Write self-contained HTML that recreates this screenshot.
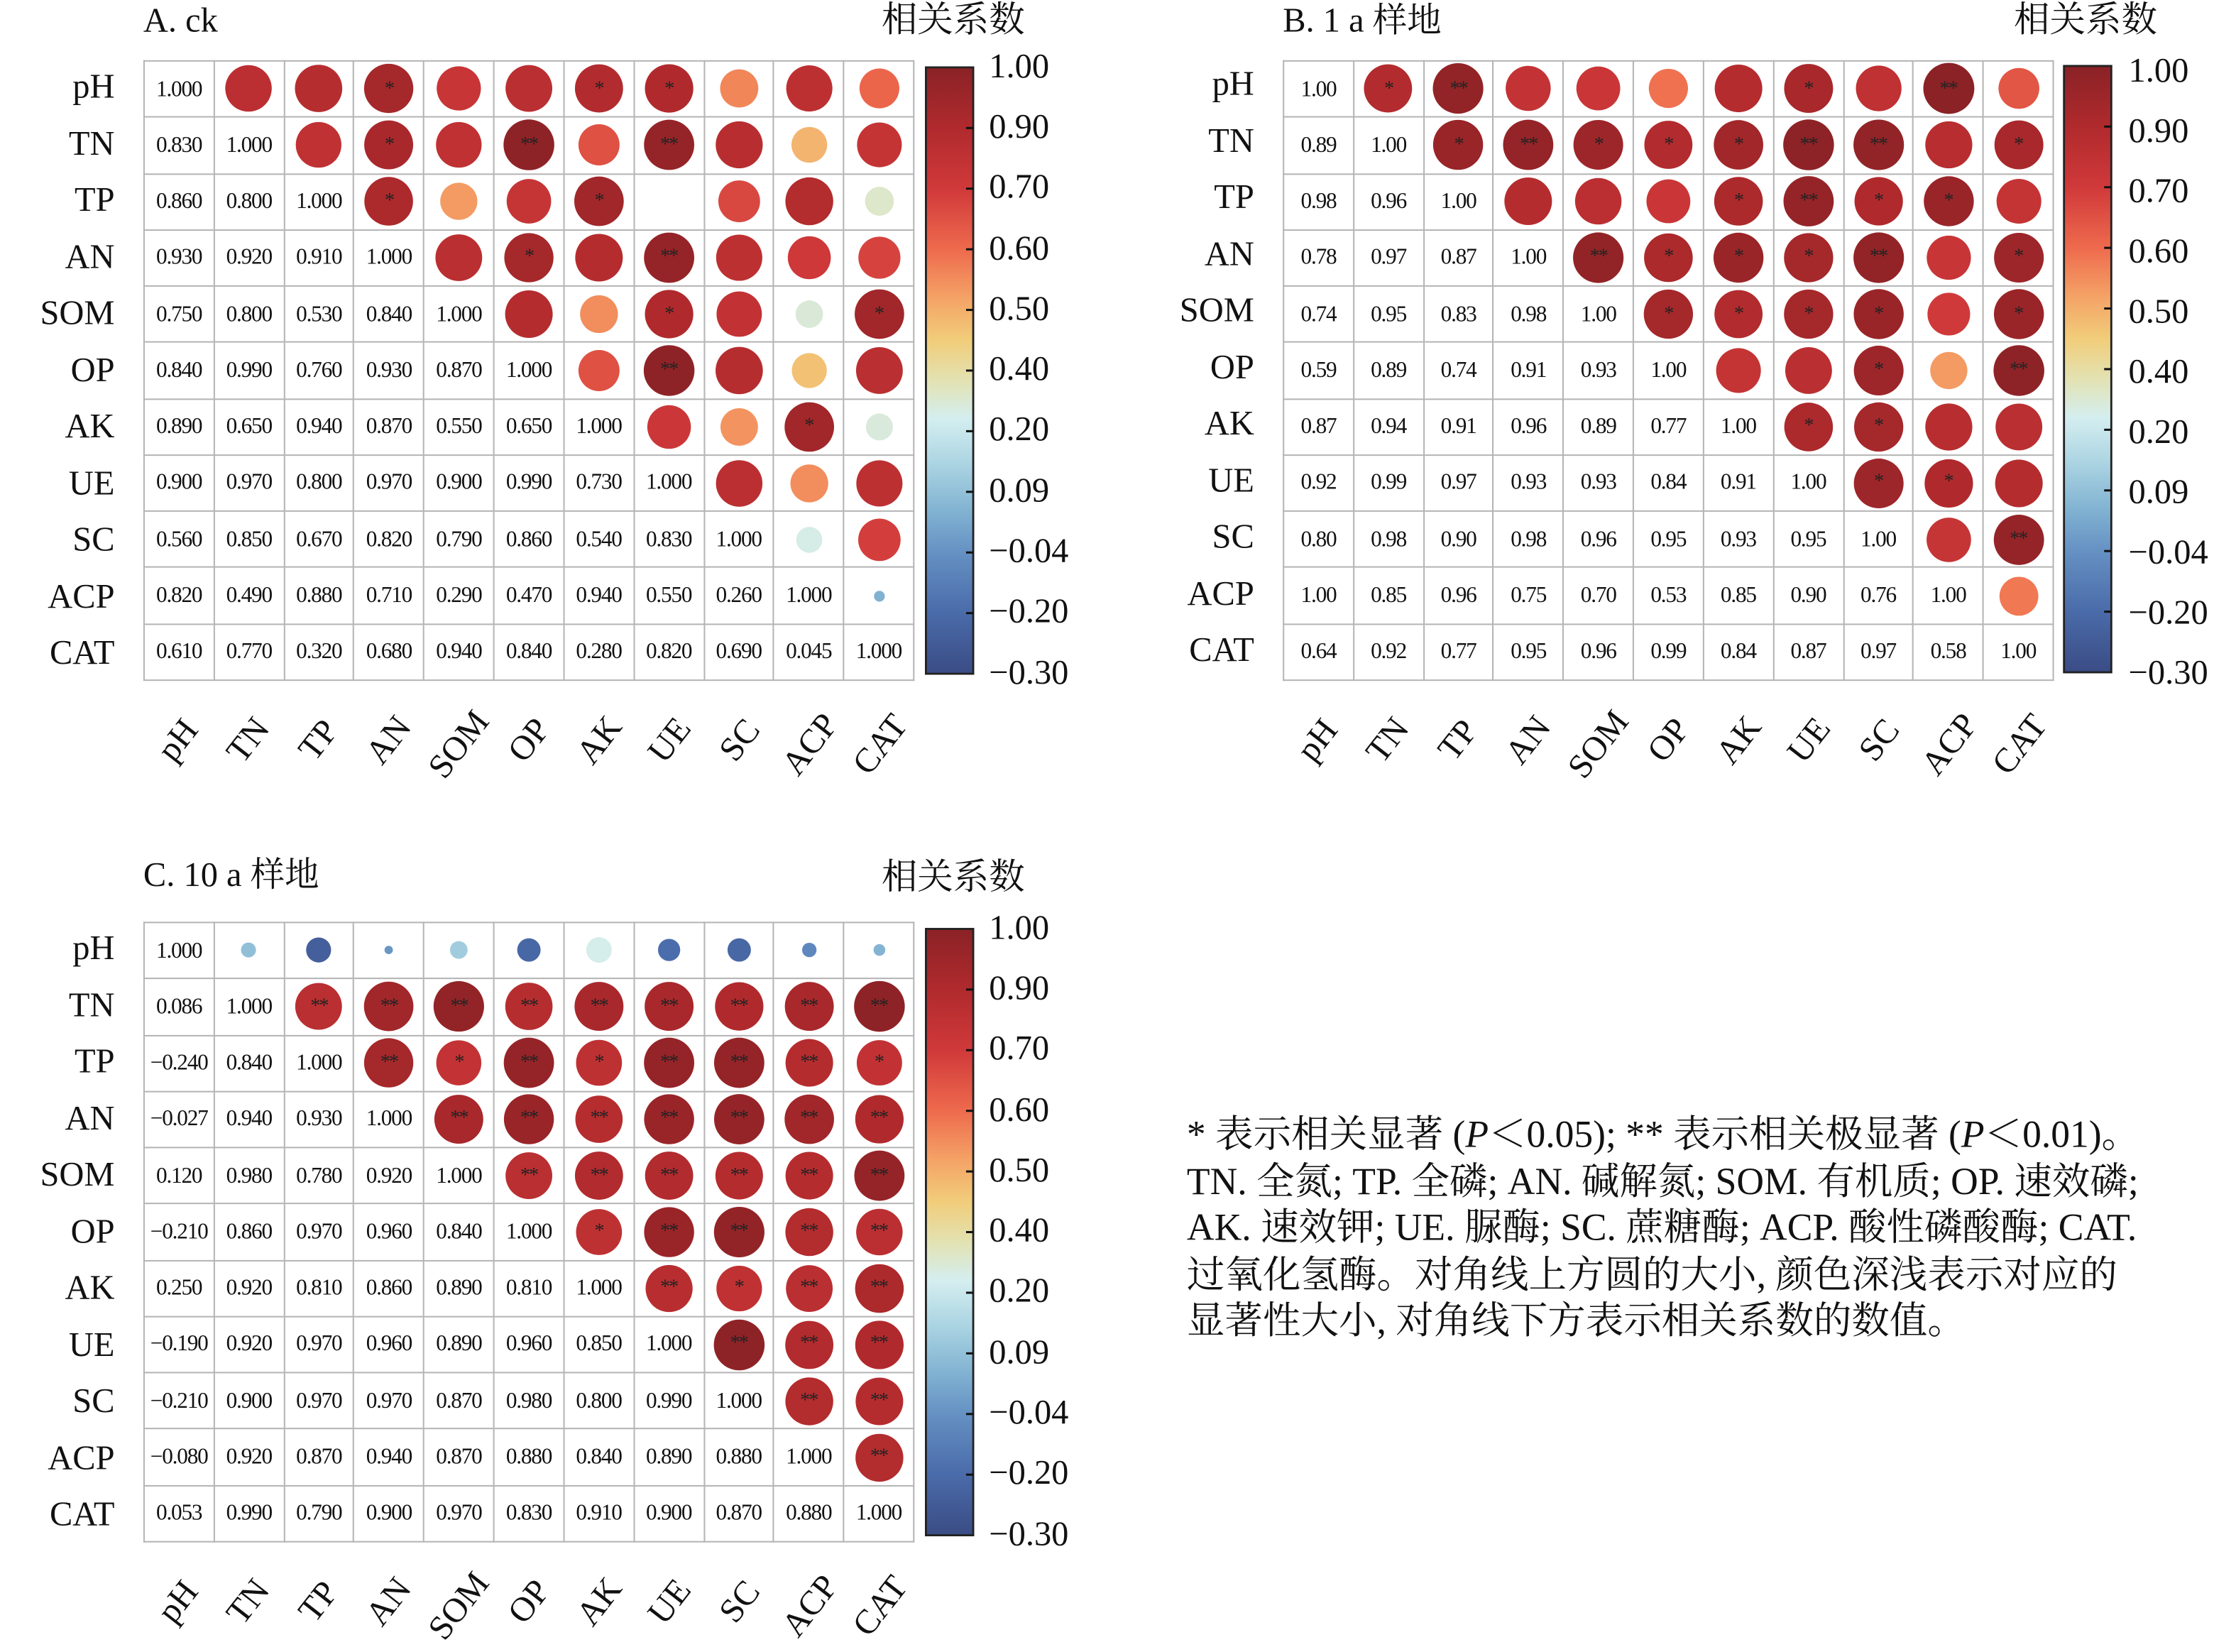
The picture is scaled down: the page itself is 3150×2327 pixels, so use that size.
<!DOCTYPE html>
<html><head><meta charset="utf-8">
<style>
html,body{margin:0;padding:0;background:#fff;}
#root{position:absolute;left:0;top:0;width:1560px;height:1152.5px;transform:scale(2.01923);transform-origin:0 0;font-family:"Liberation Serif","Noto Serif CJK SC",serif;color:#111;overflow:hidden;}
.panel{position:absolute;width:700px;height:520px;}
.panel svg.circ{position:absolute;left:0;top:0;overflow:visible;}
table.m{position:absolute;left:0;top:0;width:538px;height:433px;border-collapse:collapse;table-layout:fixed;border:1.8px solid #222;z-index:2;box-sizing:border-box;}
table.m td{border:1px solid #b4b4b4;text-align:center;vertical-align:middle;font-size:15.5px;line-height:15px;padding:0;white-space:nowrap;letter-spacing:-0.6px;overflow:visible;}
table.m td.s{font-size:14px;color:#222;letter-spacing:-1px;}
.rl{position:absolute;left:-120px;width:100px;font-size:24px;line-height:24px;height:24px;text-align:right;white-space:nowrap;}
.cl{position:absolute;width:0;height:0;}
.cl span{position:absolute;left:0;top:0;transform:translate(-50%,-50%) rotate(-52deg);font-size:24px;white-space:nowrap;}
.ttl{position:absolute;font-size:24px;white-space:nowrap;line-height:24px;}
.cbl{position:absolute;left:590px;font-size:24px;line-height:24px;white-space:nowrap;}
.note{position:absolute;left:828px;top:775px;font-size:26.5px;line-height:32.6px;white-space:nowrap;}
</style></head><body>
<div id="root">

<div class="panel" id="pA" style="left:100px;top:42px;">
<div class="ttl" style="left:0;top:-39px;">A. ck</div>
<div class="ttl" style="left:515px;top:-39px;font-size:25px;">相关系数</div>
<table class="m">
<tr><td>1.000</td><td></td><td></td><td class=s>*</td><td></td><td></td><td class=s>*</td><td class=s>*</td><td></td><td></td><td></td></tr>
<tr><td>0.830</td><td>1.000</td><td></td><td class=s>*</td><td></td><td class=s>**</td><td></td><td class=s>**</td><td></td><td></td><td></td></tr>
<tr><td>0.860</td><td>0.800</td><td>1.000</td><td class=s>*</td><td></td><td></td><td class=s>*</td><td class=x></td><td></td><td></td><td></td></tr>
<tr><td>0.930</td><td>0.920</td><td>0.910</td><td>1.000</td><td></td><td class=s>*</td><td></td><td class=s>**</td><td></td><td></td><td></td></tr>
<tr><td>0.750</td><td>0.800</td><td>0.530</td><td>0.840</td><td>1.000</td><td></td><td></td><td class=s>*</td><td></td><td></td><td class=s>*</td></tr>
<tr><td>0.840</td><td>0.990</td><td>0.760</td><td>0.930</td><td>0.870</td><td>1.000</td><td></td><td class=s>**</td><td></td><td></td><td></td></tr>
<tr><td>0.890</td><td>0.650</td><td>0.940</td><td>0.870</td><td>0.550</td><td>0.650</td><td>1.000</td><td></td><td></td><td class=s>*</td><td></td></tr>
<tr><td>0.900</td><td>0.970</td><td>0.800</td><td>0.970</td><td>0.900</td><td>0.990</td><td>0.730</td><td>1.000</td><td></td><td></td><td></td></tr>
<tr><td>0.560</td><td>0.850</td><td>0.670</td><td>0.820</td><td>0.790</td><td>0.860</td><td>0.540</td><td>0.830</td><td>1.000</td><td></td><td></td></tr>
<tr><td>0.820</td><td>0.490</td><td>0.880</td><td>0.710</td><td>0.290</td><td>0.470</td><td>0.940</td><td>0.550</td><td>0.260</td><td>1.000</td><td></td></tr>
<tr><td>0.610</td><td>0.770</td><td>0.320</td><td>0.680</td><td>0.940</td><td>0.840</td><td>0.280</td><td>0.820</td><td>0.690</td><td>0.045</td><td>1.000</td></tr>
</table>
</div>

<div class="panel" id="pB" style="left:895px;top:42px;">
<div class="ttl" style="left:0;top:-39px;">B. 1 a 样地</div>
<div class="ttl" style="left:510px;top:-39px;font-size:25px;">相关系数</div>
<table class="m">
<tr><td>1.00</td><td class=s>*</td><td class=s>**</td><td></td><td></td><td></td><td></td><td class=s>*</td><td></td><td class=s>**</td><td></td></tr>
<tr><td>0.89</td><td>1.00</td><td class=s>*</td><td class=s>**</td><td class=s>*</td><td class=s>*</td><td class=s>*</td><td class=s>**</td><td class=s>**</td><td></td><td class=s>*</td></tr>
<tr><td>0.98</td><td>0.96</td><td>1.00</td><td></td><td></td><td></td><td class=s>*</td><td class=s>**</td><td class=s>*</td><td class=s>*</td><td></td></tr>
<tr><td>0.78</td><td>0.97</td><td>0.87</td><td>1.00</td><td class=s>**</td><td class=s>*</td><td class=s>*</td><td class=s>*</td><td class=s>**</td><td></td><td class=s>*</td></tr>
<tr><td>0.74</td><td>0.95</td><td>0.83</td><td>0.98</td><td>1.00</td><td class=s>*</td><td class=s>*</td><td class=s>*</td><td class=s>*</td><td></td><td class=s>*</td></tr>
<tr><td>0.59</td><td>0.89</td><td>0.74</td><td>0.91</td><td>0.93</td><td>1.00</td><td></td><td></td><td class=s>*</td><td></td><td class=s>**</td></tr>
<tr><td>0.87</td><td>0.94</td><td>0.91</td><td>0.96</td><td>0.89</td><td>0.77</td><td>1.00</td><td class=s>*</td><td class=s>*</td><td></td><td></td></tr>
<tr><td>0.92</td><td>0.99</td><td>0.97</td><td>0.93</td><td>0.93</td><td>0.84</td><td>0.91</td><td>1.00</td><td class=s>*</td><td class=s>*</td><td></td></tr>
<tr><td>0.80</td><td>0.98</td><td>0.90</td><td>0.98</td><td>0.96</td><td>0.95</td><td>0.93</td><td>0.95</td><td>1.00</td><td></td><td class=s>**</td></tr>
<tr><td>1.00</td><td>0.85</td><td>0.96</td><td>0.75</td><td>0.70</td><td>0.53</td><td>0.85</td><td>0.90</td><td>0.76</td><td>1.00</td><td></td></tr>
<tr><td>0.64</td><td>0.92</td><td>0.77</td><td>0.95</td><td>0.96</td><td>0.99</td><td>0.84</td><td>0.87</td><td>0.97</td><td>0.58</td><td>1.00</td></tr>
</table>
</div>

<div class="panel" id="pC" style="left:100px;top:643px;">
<div class="ttl" style="left:0;top:-44px;">C. 10 a 样地</div>
<div class="ttl" style="left:515px;top:-42px;font-size:25px;">相关系数</div>
<table class="m">
<tr><td>1.000</td><td></td><td></td><td></td><td></td><td></td><td></td><td></td><td></td><td></td><td></td></tr>
<tr><td>0.086</td><td>1.000</td><td class=s>**</td><td class=s>**</td><td class=s>**</td><td class=s>**</td><td class=s>**</td><td class=s>**</td><td class=s>**</td><td class=s>**</td><td class=s>**</td></tr>
<tr><td>−0.240</td><td>0.840</td><td>1.000</td><td class=s>**</td><td class=s>*</td><td class=s>**</td><td class=s>*</td><td class=s>**</td><td class=s>**</td><td class=s>**</td><td class=s>*</td></tr>
<tr><td>−0.027</td><td>0.940</td><td>0.930</td><td>1.000</td><td class=s>**</td><td class=s>**</td><td class=s>**</td><td class=s>**</td><td class=s>**</td><td class=s>**</td><td class=s>**</td></tr>
<tr><td>0.120</td><td>0.980</td><td>0.780</td><td>0.920</td><td>1.000</td><td class=s>**</td><td class=s>**</td><td class=s>**</td><td class=s>**</td><td class=s>**</td><td class=s>**</td></tr>
<tr><td>−0.210</td><td>0.860</td><td>0.970</td><td>0.960</td><td>0.840</td><td>1.000</td><td class=s>*</td><td class=s>**</td><td class=s>**</td><td class=s>**</td><td class=s>**</td></tr>
<tr><td>0.250</td><td>0.920</td><td>0.810</td><td>0.860</td><td>0.890</td><td>0.810</td><td>1.000</td><td class=s>**</td><td class=s>*</td><td class=s>**</td><td class=s>**</td></tr>
<tr><td>−0.190</td><td>0.920</td><td>0.970</td><td>0.960</td><td>0.890</td><td>0.960</td><td>0.850</td><td>1.000</td><td class=s>**</td><td class=s>**</td><td class=s>**</td></tr>
<tr><td>−0.210</td><td>0.900</td><td>0.970</td><td>0.970</td><td>0.870</td><td>0.980</td><td>0.800</td><td>0.990</td><td>1.000</td><td class=s>**</td><td class=s>**</td></tr>
<tr><td>−0.080</td><td>0.920</td><td>0.870</td><td>0.940</td><td>0.870</td><td>0.880</td><td>0.840</td><td>0.890</td><td>0.880</td><td>1.000</td><td class=s>**</td></tr>
<tr><td>0.053</td><td>0.990</td><td>0.790</td><td>0.900</td><td>0.970</td><td>0.830</td><td>0.910</td><td>0.900</td><td>0.870</td><td>0.880</td><td>1.000</td></tr>
</table>
</div>

<div class="note">
<div>* 表示相关显著 (<i>P</i>＜0.05); ** 表示相关极显著 (<i>P</i>＜0.01)。</div>
<div>TN. 全氮; TP. 全磷; AN. 碱解氮; SOM. 有机质; OP. 速效磷;</div>
<div>AK. 速效钾; UE. 脲酶; SC. 蔗糖酶; ACP. 酸性磷酸酶; CAT.</div>
<div>过氧化氢酶。对角线上方圆的大小, 颜色深浅表示对应的</div>
<div>显著性大小, 对角线下方表示相关系数的数值。</div>
</div>

<div class="panel" style="left:100px;top:42px;z-index:3;pointer-events:none;">
<div class="rl" style="top:7px">pH</div><div class="rl" style="top:47px">TN</div><div class="rl" style="top:86px">TP</div><div class="rl" style="top:126px">AN</div><div class="rl" style="top:165px">SOM</div><div class="rl" style="top:205px">OP</div><div class="rl" style="top:244px">AK</div><div class="rl" style="top:284px">UE</div><div class="rl" style="top:323px">SC</div><div class="rl" style="top:363px">ACP</div><div class="rl" style="top:402px">CAT</div>
<div class="cl" style="left:24.5px;top:475px"><span>pH</span></div><div class="cl" style="left:73.5px;top:475px"><span>TN</span></div><div class="cl" style="left:122.5px;top:475px"><span>TP</span></div><div class="cl" style="left:171.5px;top:475px"><span>AN</span></div><div class="cl" style="left:220.5px;top:478px"><span>SOM</span></div><div class="cl" style="left:269.5px;top:475px"><span>OP</span></div><div class="cl" style="left:318.5px;top:475px"><span>AK</span></div><div class="cl" style="left:367.5px;top:475px"><span>UE</span></div><div class="cl" style="left:416.5px;top:475px"><span>SC</span></div><div class="cl" style="left:465.5px;top:478px"><span>ACP</span></div><div class="cl" style="left:514.5px;top:478px"><span>CAT</span></div>
<div class="cbl" style="top:-7px">1.00</div><div class="cbl" style="top:35px">0.90</div><div class="cbl" style="top:77px">0.70</div><div class="cbl" style="top:120px">0.60</div><div class="cbl" style="top:162px">0.50</div><div class="cbl" style="top:204px">0.40</div><div class="cbl" style="top:246px">0.20</div><div class="cbl" style="top:289px">0.09</div><div class="cbl" style="top:331px">−0.04</div><div class="cbl" style="top:373px">−0.20</div><div class="cbl" style="top:416px">−0.30</div>
</div>
<div class="panel" style="left:895px;top:42px;z-index:3;pointer-events:none;">
<div class="rl" style="top:5px">pH</div><div class="rl" style="top:45px">TN</div><div class="rl" style="top:84px">TP</div><div class="rl" style="top:124px">AN</div><div class="rl" style="top:163px">SOM</div><div class="rl" style="top:203px">OP</div><div class="rl" style="top:242px">AK</div><div class="rl" style="top:282px">UE</div><div class="rl" style="top:321px">SC</div><div class="rl" style="top:361px">ACP</div><div class="rl" style="top:400px">CAT</div>
<div class="cl" style="left:24.5px;top:475px"><span>pH</span></div><div class="cl" style="left:73.5px;top:475px"><span>TN</span></div><div class="cl" style="left:122.5px;top:475px"><span>TP</span></div><div class="cl" style="left:171.5px;top:475px"><span>AN</span></div><div class="cl" style="left:220.5px;top:478px"><span>SOM</span></div><div class="cl" style="left:269.5px;top:475px"><span>OP</span></div><div class="cl" style="left:318.5px;top:475px"><span>AK</span></div><div class="cl" style="left:367.5px;top:475px"><span>UE</span></div><div class="cl" style="left:416.5px;top:475px"><span>SC</span></div><div class="cl" style="left:465.5px;top:478px"><span>ACP</span></div><div class="cl" style="left:514.5px;top:478px"><span>CAT</span></div>
<div class="cbl" style="top:-4px">1.00</div><div class="cbl" style="top:38px">0.90</div><div class="cbl" style="top:80px">0.70</div><div class="cbl" style="top:122px">0.60</div><div class="cbl" style="top:164px">0.50</div><div class="cbl" style="top:206px">0.40</div><div class="cbl" style="top:248px">0.20</div><div class="cbl" style="top:290px">0.09</div><div class="cbl" style="top:332px">−0.04</div><div class="cbl" style="top:374px">−0.20</div><div class="cbl" style="top:416px">−0.30</div>
</div>
<div class="panel" style="left:100px;top:643px;z-index:3;pointer-events:none;">
<div class="rl" style="top:7px">pH</div><div class="rl" style="top:47px">TN</div><div class="rl" style="top:86px">TP</div><div class="rl" style="top:126px">AN</div><div class="rl" style="top:165px">SOM</div><div class="rl" style="top:205px">OP</div><div class="rl" style="top:244px">AK</div><div class="rl" style="top:284px">UE</div><div class="rl" style="top:323px">SC</div><div class="rl" style="top:363px">ACP</div><div class="rl" style="top:402px">CAT</div>
<div class="cl" style="left:24.5px;top:475px"><span>pH</span></div><div class="cl" style="left:73.5px;top:475px"><span>TN</span></div><div class="cl" style="left:122.5px;top:475px"><span>TP</span></div><div class="cl" style="left:171.5px;top:475px"><span>AN</span></div><div class="cl" style="left:220.5px;top:478px"><span>SOM</span></div><div class="cl" style="left:269.5px;top:475px"><span>OP</span></div><div class="cl" style="left:318.5px;top:475px"><span>AK</span></div><div class="cl" style="left:367.5px;top:475px"><span>UE</span></div><div class="cl" style="left:416.5px;top:475px"><span>SC</span></div><div class="cl" style="left:465.5px;top:478px"><span>ACP</span></div><div class="cl" style="left:514.5px;top:478px"><span>CAT</span></div>
<div class="cbl" style="top:-7px">1.00</div><div class="cbl" style="top:35px">0.90</div><div class="cbl" style="top:77px">0.70</div><div class="cbl" style="top:120px">0.60</div><div class="cbl" style="top:162px">0.50</div><div class="cbl" style="top:204px">0.40</div><div class="cbl" style="top:246px">0.20</div><div class="cbl" style="top:289px">0.09</div><div class="cbl" style="top:331px">−0.04</div><div class="cbl" style="top:373px">−0.20</div><div class="cbl" style="top:416px">−0.30</div>
</div>

</div>
<script>
(function(){
var stops=[[0,[138,34,38]],[0.1,[176,42,45]],[0.2,[208,57,58]],[0.3,[238,106,77]],[0.38,[244,162,102]],[0.45,[241,205,122]],[0.52,[226,227,181]],[0.58,[212,238,240]],[0.66,[168,210,225]],[0.73,[130,179,210]],[0.8,[101,145,195]],[0.9,[74,107,169]],[1,[58,76,133]]];
var tv=[1,0.9,0.7,0.6,0.5,0.4,0.2,0.09,-0.04,-0.2,-0.3];
function vt(v){if(v>=1)return 0;if(v<=-0.3)return 1;for(var i=0;i<10;i++){if(v<=tv[i]&&v>=tv[i+1]){return (i+(tv[i]-v)/(tv[i]-tv[i+1]))/10;}}return 1;}
function col(t){for(var i=0;i<stops.length-1;i++){var a=stops[i],b=stops[i+1];if(t>=a[0]&&t<=b[0]){var f=(t-a[0])/(b[0]-a[0]);var c=[0,1,2].map(function(k){return Math.round(a[1][k]+(b[1][k]-a[1][k])*f);});return 'rgb('+c.join(',')+')';}}return 'rgb(58,76,133)';}
var NS='http://www.w3.org/2000/svg';
var gstops=stops.map(function(s){return '<stop offset="'+s[0]+'" stop-color="rgb('+s[1].join(',')+')"/>';}).join('');
['pA','pB','pC'].forEach(function(id,pi){
 var p=document.getElementById(id);
 var svg=document.createElementNS(NS,'svg');
 svg.setAttribute('class','circ');svg.setAttribute('width','700');svg.setAttribute('height','520');
 var html='<defs><linearGradient id="g'+pi+'" x1="0" y1="0" x2="0" y2="1">'+gstops+'</linearGradient></defs>';
 var cbx=id==='pB'?545:546, cby=id==='pB'?4:5;
 html+='<rect x="'+cbx+'" y="'+cby+'" width="33" height="423" fill="url(#g'+pi+')" stroke="#222" stroke-width="1.4"/>';
 for(var k=1;k<10;k++){var y=cby+k*42.3;html+='<line x1="'+(cbx+28)+'" x2="'+(cbx+33)+'" y1="'+y+'" y2="'+y+'" stroke="#111" stroke-width="1.5"/>';}
 var rows=p.querySelectorAll('table.m tr');
 var cw=538/11,ch=433/11;
 for(var i=0;i<11;i++)for(var j=i+1;j<11;j++){
  var cell=rows[i].cells[j]; if(cell.className==='x')continue;
  var v=parseFloat(rows[j].cells[i].textContent.replace('−','-'));
  var r=Math.max(2.5,17.8*Math.sqrt(Math.abs(v)));
  html+='<circle cx="'+((j+0.5)*cw)+'" cy="'+((i+0.5)*ch)+'" r="'+r.toFixed(2)+'" fill="'+col(vt(v))+'"/>';
 }
 svg.innerHTML=html;
 p.insertBefore(svg,p.firstChild);
});
})();
</script>
</body></html>
